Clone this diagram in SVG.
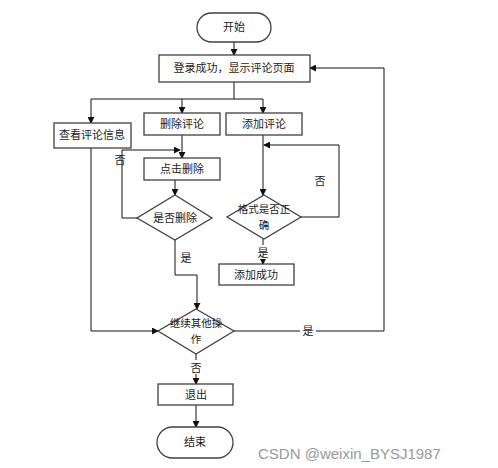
<svg xmlns="http://www.w3.org/2000/svg" width="498" height="468" viewBox="0 0 498 468">
<style>
.b{fill:#fff;stroke:#404040;stroke-width:1.3}
.t{font-family:"Noto Sans CJK SC","Liberation Serif",sans-serif;font-size:11px;fill:#222;text-anchor:middle}
.s{font-size:10.5px}
.c{fill:none;stroke:#111;stroke-width:1}
</style>
<defs>
<marker id="a" viewBox="0 0 8 8" refX="7" refY="4" markerWidth="7" markerHeight="7" orient="auto" markerUnits="userSpaceOnUse">
<path d="M0,0 L8,4 L0,8 z" fill="#111"/>
</marker>
</defs>
<rect width="498" height="468" fill="#fff"/>
<g id="connectors">
<path class="c" d="M234,42 V55" marker-end="url(#a)"/>
<path class="c" d="M234,82 V99"/>
<path class="c" d="M91,99 H263"/>
<path class="c" d="M91,99 V123" marker-end="url(#a)"/>
<path class="c" d="M182,99 V113" marker-end="url(#a)"/>
<path class="c" d="M263,99 V113" marker-end="url(#a)"/>
<path class="c" d="M182,135 V158" marker-end="url(#a)"/>
<path class="c" d="M175,180 V195" marker-end="url(#a)"/>
<path class="c" d="M137,218 H122 V150 H180" marker-end="url(#a)"/>
<path class="c" d="M175,240 V275 H197 V309" marker-end="url(#a)"/>
<path class="c" d="M263,135 V195" marker-end="url(#a)"/>
<path class="c" d="M301,217 H339 V145 H264" marker-end="url(#a)"/>
<path class="c" d="M263,239 V264" marker-end="url(#a)"/>
<path class="c" d="M91,148 V331 H158" marker-end="url(#a)"/>
<path class="c" d="M234,331 H384 V68 H310" marker-end="url(#a)"/>
<path class="c" d="M196,354 V384" marker-end="url(#a)"/>
<path class="c" d="M196,405 V427" marker-end="url(#a)"/>
<rect x="300" y="324" width="16" height="14" fill="#fff"/>
<text class="t" x="308" y="335">是</text>
<rect x="189" y="360" width="14" height="14" fill="#fff"/>
<text class="t" x="196" y="372">否</text>
<rect x="256" y="245" width="14" height="14" fill="#fff"/>
<text class="t" x="263" y="257">是</text>
<text class="t" x="120" y="164">否</text>
<text class="t" x="186" y="262">是</text>
<text class="t" x="320" y="185">否</text>
</g>
<g id="start"><rect class="b" x="197" y="13" width="74" height="29" rx="14.5"/><text class="t" x="234" y="31">开始</text></g>
<g id="home"><rect class="b" x="159" y="55" width="151" height="27"/><text class="t" x="234" y="72">登录成功，显示评论页面</text></g>
<g id="view"><rect class="b" x="54" y="123" width="77" height="25"/><text class="t" x="92" y="139">查看评论信息</text></g>
<g id="del"><rect class="b" x="144" y="113" width="76" height="22"/><text class="t" x="182" y="128">删除评论</text></g>
<g id="add"><rect class="b" x="226" y="113" width="76" height="22"/><text class="t" x="264" y="128">添加评论</text></g>
<g id="click"><rect class="b" x="144" y="158" width="76" height="22"/><text class="t" x="182" y="173">点击删除</text></g>
<g id="ifdel"><polygon class="b" points="175,195 212,218 175,240 137,218"/><text class="t" x="175" y="222">是否删除</text></g>
<g id="iffmt"><polygon class="b" points="264,195 301,217 264,239 227,217"/><text class="t s" x="264" y="213">格式是否正</text><text class="t s" x="264" y="229">确</text></g>
<g id="added"><rect class="b" x="219" y="264" width="75" height="21"/><text class="t" x="256" y="279">添加成功</text></g>
<g id="cont"><polygon class="b" points="196,309 234,331 196,354 158,331"/><text class="t s" x="196" y="327">继续其他操</text><text class="t s" x="196" y="343">作</text></g>
<g id="exit"><rect class="b" x="158" y="384" width="75" height="21"/><text class="t" x="196" y="399">退出</text></g>
<g id="end"><rect class="b" x="157" y="427" width="76" height="31" rx="15.5"/><text class="t" x="195" y="446">结束</text></g>
<text x="258" y="459" font-family="Liberation Sans, sans-serif" font-size="15" fill="#999">CSDN @weixin_BYSJ1987</text>
</svg>
